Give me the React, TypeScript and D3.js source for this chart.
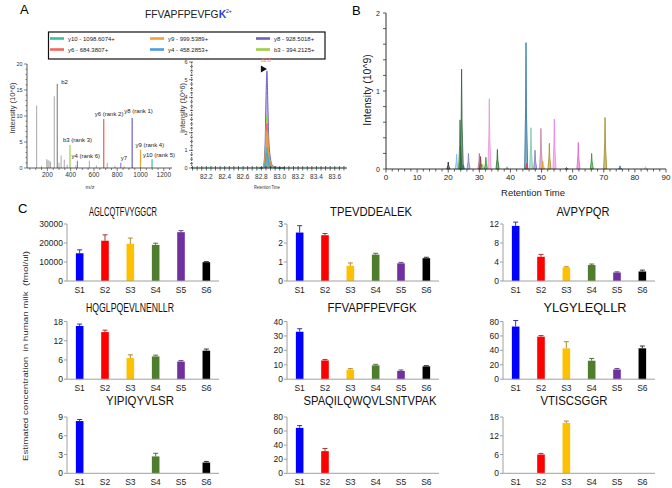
import React from 'react';
import * as d3 from 'd3';

const W = 672;
const H = 488;
const FONT = 'Liberation Sans, Arial, sans-serif';

// ---------- panel A : fragment spectrum ----------
const specGrayMz = [108, 150, 195, 205, 215, 228, 259, 300, 318, 345, 370, 445, 560, 620, 714, 780, 860];
const specGrayInt = [12, 0.4, 1.7, 1.5, 1.4, 1.2, 13.8, 1.0, 2.4, 1.6, 0.6, 0.5, 1.4, 0.5, 1.0, 0.4, 0.3];
const ionLabels = ['b2', 'b3 (rank 3)', 'y4 (rank 6)', 'y6 (rank 2)', 'y7', 'y8 (rank 1)', 'y9 (rank 4)', 'y10 (rank 5)'];
const ionMz = [285, 394, 458, 684, 830, 928, 999.5, 1098.6];
const ionInt = [16.2, 4.4, 1.4, 9.4, 1.0, 9.6, 3.5, 1.7];
const ionColors = ['#8a8a8a', '#9ccf45', '#4a9fe0', '#f05a4a', '#8f86dd', '#6b5fc8', '#f2a03a', '#3dbfa0'];

// legend / transitions
const legendNames = ['y10 - 1098.6074+', 'y9 - 999.5389+', 'y8 - 928.5018+', 'y6 - 684.3807+', 'y4 - 458.2853+', 'b3 - 394.2125+'];
const legendColors = ['#3dbfa0', '#f2a03a', '#6b5fc8', '#f06a5a', '#4a9fe0', '#9ccf45'];

// extracted ion chromatograms (10^6)
const xicTimes = [82.78, 82.82, 82.84, 82.85, 82.86, 82.87, 82.88, 82.9, 82.92, 82.95, 83.0, 83.05];
const xicY8 = [0, 0.05, 1.3, 3.9, 5.5, 3.7, 1.7, 0.5, 0.15, 0.06, 0.02, 0];
const xicB3 = [0, 0.03, 0.7, 2.1, 3.0, 2.0, 0.9, 0.3, 0.1, 0.04, 0.01, 0];
const xicY6 = [0, 0.02, 0.6, 1.8, 2.5, 1.7, 0.8, 0.25, 0.08, 0.03, 0.01, 0];
const xicY9 = [0, 0.02, 0.5, 1.5, 2.1, 1.4, 0.6, 0.2, 0.07, 0.03, 0.01, 0];
const xicY10 = [0, 0.01, 0.3, 0.8, 1.15, 0.75, 0.35, 0.12, 0.04, 0.02, 0, 0];
const xicY4 = [0, 0.01, 0.2, 0.6, 0.85, 0.55, 0.25, 0.08, 0.03, 0.01, 0, 0];

// ---------- panel B : chromatogram peaks ----------
const ticRT = [20.0, 22.7, 23.8, 24.0, 24.3, 24.9, 26.5, 30.0, 30.4, 31.1, 32.1, 33.2, 35.8, 38.9, 45.0, 45.2, 46.6, 47.9, 49.8, 50.4, 52.5, 54.1, 58.0, 61.8, 66.1, 70.4, 75.2, 83.4];
const ticHeight = [0.09, 0.19, 0.63, 0.3, 1.28, 0.05, 0.2, 0.2, 0.16, 0.06, 0.15, 0.9, 0.25, 0.03, 1.62, 0.07, 0.53, 0.24, 0.52, 0.1, 0.33, 0.64, 0.02, 0.34, 0.2, 0.66, 0.04, 0.03];
const ticColors = ['#222222', '#7ab8e6', '#2e7d32', '#3f8f3f', '#2f5f3f', '#00897b', '#8a80c8', '#b07080', '#7a3a3a', '#8fd14f', '#2e8b2e', '#ee8fd8', '#1f6f1f', '#999999', '#2a6fa0', '#d04040', '#78c8a8', '#7f70c8', '#c37fa5', '#e0a020', '#a89020', '#f27fe6', '#555555', '#e060d0', '#309030', '#a08a20', '#1a7090', '#c0c0c0'];

// ---------- panel C : concentrations ----------
const samples = ['S1', 'S2', 'S3', 'S4', 'S5', 'S6'];
const sampleColors = ['#0000ff', '#ff0000', '#ffc000', '#4e7d2e', '#7030a0', '#000000'];
const peptides = ['AGLCQTFVYGGCR', 'TPEVDDEALEK', 'AVPYPQR', 'HQGLPQEVLNENLLR', 'FFVAPFPEVFGK', 'YLGYLEQLLR', 'YIPIQYVLSR', 'SPAQILQWQVLSNTVPAK', 'VTISCSGGR'];
const concMeans = [
  [14600, 21200, 19600, 19000, 25700, 9900],
  [2.55, 2.41, 0.8, 1.39, 0.93, 1.2],
  [11.6, 5.1, 2.86, 3.36, 1.79, 2.0],
  [16.6, 14.7, 6.6, 7.1, 5.5, 8.9],
  [32.9, 13.0, 6.6, 9.6, 5.7, 8.9],
  [73, 59, 42.8, 25.6, 13.5, 42.8],
  [8.35, 0, 0, 2.7, 0, 1.72],
  [64.5, 31.5, 0, 0, 0, 0],
  [0, 6.0, 16.1, 0, 0, 0],
];
const concErrors = [
  [1800, 3100, 3000, 900, 800, 300],
  [0.36, 0.09, 0.15, 0.07, 0.05, 0.05],
  [0.8, 0.5, 0.14, 0.21, 0.14, 0.29],
  [0.6, 0.6, 1.0, 0.4, 0.3, 0.5],
  [2.1, 0.7, 0.7, 0.7, 0.7, 0.5],
  [8.4, 1.5, 9.2, 3.2, 1.4, 3.2],
  [0.25, 0, 0, 0.5, 0, 0.18],
  [3.3, 3.8, 0, 0, 0, 0],
  [0, 0.35, 0.6, 0, 0, 0],
];
const concMax = [30000, 3, 12, 18, 40, 80, 9, 80, 18];
const concStep = [10000, 1, 4, 6, 10, 20, 3, 20, 6];

// layout of the 3x3 grid
const colX = [67, 287, 503];
const rowBottom = [281, 379.2, 473.3];
const rowTop = [224, 321.5, 417];
const titleCx = [123, 371, 583, 130, 372, 585, 140, 370, 574];
const titleW = [68, 82, 53, 88, 89, 83, 68, 133, 67];
const titleBase = [215.5, 311.5, 404.5];

const PanelA = () => {
  const x = d3.scaleLinear().domain([25, 1270]).range([27, 172]);
  const y = d3.scaleLinear().domain([0, 20]).range([168, 64]);

  const xx = d3.scaleLinear().domain([82.04, 83.73]).range([191.7, 346.7]);
  const xy = d3.scaleLinear().domain([0, 6]).range([168, 62]);
  const area = d3.area<number>()
    .x((d, i) => xx(xicTimes[i]))
    .y0(xy(0))
    .y1((d) => xy(d))
    .curve(d3.curveMonotoneX);
  const line = d3.line<number>()
    .x((d, i) => xx(xicTimes[i]))
    .y((d) => xy(d))
    .curve(d3.curveMonotoneX);
  // drawn biggest first
  const xic = [
    { v: xicY8, c: legendColors[2] },
    { v: xicB3, c: legendColors[5] },
    { v: xicY6, c: legendColors[3] },
    { v: xicY9, c: legendColors[1] },
    { v: xicY10, c: legendColors[0] },
    { v: xicY4, c: legendColors[4] },
  ];

  // label nudges for the spectrum annotations
  const labelDx = [4, -7, -6, -9, 0, -8, -5, -9];
  const labelDy = [0, -3, -3, -3, -3, -5, -3, -2];

  return (
    <g>
      <text x={20} y={14} fontSize={13}>A</text>
      <text x={145} y={18} fontSize={10.3} fill="#222">
        FFVAPFPEVFG<tspan fill="#1f3fd8" fontWeight="bold">K</tspan>
        <tspan fontSize={5} dy={-5}>2+</tspan>
      </text>

      {/* legend */}
      <rect x={48.5} y={32} width={276.5} height={27} fill="none" stroke="#111" strokeWidth={1.2} />
      {legendNames.map((n, i) => {
        const cx = [50, 150, 256][i % 3];
        const cy = [38.5, 49.5][Math.floor(i / 3)];
        return (
          <g key={n}>
            <rect x={cx} y={cy - 1.3} width={14} height={2.6} fill={legendColors[i]} />
            <text x={cx + 18} y={cy + 2} fontSize={6} fill="#222">{n}</text>
          </g>
        );
      })}

      {/* spectrum */}
      {specGrayMz.map((m, i) => (
        <line key={'g' + i} x1={x(m)} x2={x(m)} y1={y(0)} y2={y(specGrayInt[i])} stroke="#a8a8a8" strokeWidth={1} />
      ))}
      {ionMz.map((m, i) => (
        <g key={ionLabels[i]}>
          <line x1={x(m)} x2={x(m)} y1={y(0)} y2={y(ionInt[i])} stroke={ionColors[i]} strokeWidth={1.2} />
          <text x={x(m) + labelDx[i]} y={y(ionInt[i]) + labelDy[i]} fontSize={6} fill="#222">{ionLabels[i]}</text>
        </g>
      ))}
      <line x1={27} x2={172} y1={168} y2={168} stroke="#333" strokeWidth={0.8} />
      <line x1={27} x2={27} y1={64} y2={168} stroke="#333" strokeWidth={0.8} />
      {d3.range(50, 1251, 50).map((t) => (
        <line key={'sx' + t} x1={x(t)} x2={x(t)} y1={168} y2={t % 200 === 0 ? 171 : 170} stroke="#333" strokeWidth={0.6} />
      ))}
      {d3.range(200, 1201, 200).map((t) => (
        <text key={'sxl' + t} x={x(t)} y={177} fontSize={6.5} textAnchor="middle" fill="#333">{t}</text>
      ))}
      {d3.range(0, 21, 1).map((t) => (
        <line key={'sy' + t} x1={t % 5 === 0 ? 24 : 25.5} x2={27} y1={y(t)} y2={y(t)} stroke="#333" strokeWidth={0.6} />
      ))}
      {d3.range(0, 21, 5).map((t) => (
        <text key={'syl' + t} x={22.5} y={y(t) + 2} fontSize={5.5} textAnchor="end" fill="#333">{t}</text>
      ))}
      <text x={90} y={189} fontSize={5.5} textAnchor="middle" fill="#333">m/z</text>
      <text transform="translate(15,108) rotate(-90)" fontSize={7} textAnchor="middle" fill="#333" textLength={51} lengthAdjust="spacingAndGlyphs">Intensity (10^6)</text>

      {/* XIC */}
      {xic.map((s, i) => (
        <g key={'xic' + i}>
          <path d={area(s.v) || ''} fill={s.c} fillOpacity={0.35} />
          <path d={line(s.v) || ''} fill="none" stroke={s.c} strokeWidth={1} />
        </g>
      ))}
      <line x1={191.7} x2={346.7} y1={168} y2={168} stroke="#222" strokeWidth={1} />
      <line x1={191.7} x2={191.7} y1={62} y2={168} stroke="#222" strokeWidth={0.8} strokeDasharray="1.5,1" />
      {d3.range(82.05, 83.72, 0.05).map((t) => (
        <line key={'xt' + t.toFixed(2)} x1={xx(t)} x2={xx(t)} y1={166} y2={170.5} stroke="#222" strokeWidth={0.7} />
      ))}
      {d3.range(82.05, 83.72, 0.05).map((t) => (
        <line key={'xg' + t.toFixed(2)} x1={xx(t) + 2} x2={xx(t) + 2} y1={166.8} y2={169.2} stroke="#3aa58a" strokeWidth={0.7} />
      ))}
      {[82.2, 82.4, 82.6, 82.8, 83.0, 83.2, 83.4, 83.6].map((t) => (
        <text key={'xl' + t} x={xx(t)} y={178.5} fontSize={6.5} textAnchor="middle" fill="#333">{t.toFixed(1)}</text>
      ))}
      {d3.range(0, 6.01, 0.25).map((t) => (
        <line key={'xy' + t} x1={t % 1 === 0 ? 189 : 190} x2={193} y1={xy(t)} y2={xy(t)} stroke="#222" strokeWidth={0.6} />
      ))}
      {d3.range(0, 7, 1).map((t) => (
        <text key={'xyl' + t} x={187.5} y={xy(t) + 2} fontSize={5.5} textAnchor="end" fill="#333">{t}</text>
      ))}
      <text transform="translate(185,108) rotate(-90)" fontSize={7} textAnchor="middle" fill="#333" textLength={50} lengthAdjust="spacingAndGlyphs">Intensity (10^6)</text>
      <text x={267} y={189} fontSize={5} textAnchor="middle" fill="#333" textLength={26} lengthAdjust="spacingAndGlyphs">Retention Time</text>
      <path d={d3.symbol(d3.symbolTriangle, 22)() || ''} transform={`translate(${xx(82.86) - 4},69) rotate(90)`} fill="#111" />
      <text x={xx(82.86) - 1} y={62} fontSize={5} textAnchor="middle" fill="#f07a6a">82.8</text>
    </g>
  );
};

const PanelB = () => {
  const x = d3.scaleLinear().domain([0, 90]).range([386, 666]);
  const y = d3.scaleLinear().domain([0, 2]).range([169, 13]);
  const area = d3.area<[number, number]>()
    .x((d) => x(d[0]))
    .y0(y(0))
    .y1((d) => y(d[1]));
  return (
    <g>
      <text x={352} y={15} fontSize={13}>B</text>
      {ticRT.map((rt, i) => {
        const pts: [number, number][] = [[rt - 0.45, 0], [rt - 0.12, ticHeight[i] * 0.5], [rt, ticHeight[i]], [rt + 0.15, ticHeight[i] * 0.45], [rt + 0.55, 0]];
        return (
          <path key={'p' + i} d={area(pts) || ''} fill={ticColors[i]} fillOpacity={0.55} stroke={ticColors[i]} strokeWidth={0.8} />
        );
      })}
      <line x1={386} x2={666} y1={169} y2={169} stroke="#333" strokeWidth={1} />
      <line x1={386} x2={386} y1={13} y2={169} stroke="#333" strokeWidth={1} />
      {d3.range(0, 91, 2).map((t) => (
        <line key={'bx' + t} x1={x(t)} x2={x(t)} y1={169} y2={t % 10 === 0 ? 172.5 : 171.5} stroke="#333" strokeWidth={0.8} />
      ))}
      {d3.range(0, 91, 10).map((t) => (
        <text key={'bxl' + t} x={x(t)} y={180} fontSize={8} textAnchor="middle" fill="#222">{t}</text>
      ))}
      {d3.range(0, 2.01, 0.2).map((t) => (
        <line key={'by' + t.toFixed(1)} x1={383} x2={386} y1={y(t)} y2={y(t)} stroke="#333" strokeWidth={0.8} />
      ))}
      {[0, 1, 2].map((t) => (
        <text key={'byl' + t} x={380} y={y(t) + 2.5} fontSize={7} textAnchor="end" fill="#222">{t}</text>
      ))}
      <text transform="translate(371,90) rotate(-90)" fontSize={10.5} textAnchor="middle" fill="#222">Intensity (10^9)</text>
      <text x={533} y={196} fontSize={9.5} textAnchor="middle" fill="#222">Retention Time</text>
    </g>
  );
};

const BarPanel = ({ idx }: { idx: number }) => {
  const col = idx % 3;
  const row = Math.floor(idx / 3);
  const x0 = colX[col];
  const bottom = rowBottom[row];
  const top = rowTop[row];
  const xs = d3.scaleBand().domain(samples).range([x0, x0 + 152]).paddingInner(0.7).paddingOuter(0.35);
  const ys = d3.scaleLinear().domain([0, concMax[idx]]).range([bottom, top]);
  const ticks = d3.range(0, concMax[idx] + 1e-9, concStep[idx]);
  const means = concMeans[idx];
  const errs = concErrors[idx];
  return (
    <g>
      <text x={titleCx[idx]} y={titleBase[row]} fontSize={13} textAnchor="middle" fill="#111" textLength={titleW[idx]} lengthAdjust="spacingAndGlyphs">{peptides[idx]}</text>
      {samples.map((s, i) => {
        const v = means[i];
        if (v <= 0) return null;
        const bx = xs(s) as number;
        const bw = xs.bandwidth();
        const cx = bx + bw / 2;
        const ec = d3.interpolateRgb(sampleColors[i], '#606060')(0.55);
        return (
          <g key={s}>
            <rect x={bx} y={ys(v)} width={bw} height={bottom - ys(v)} fill={sampleColors[i]} />
            {errs[i] > 0 && (
              <g stroke={ec} strokeWidth={1}>
                <line x1={cx} x2={cx} y1={ys(v)} y2={ys(v + errs[i])} />
                <line x1={cx - 2.5} x2={cx + 2.5} y1={ys(v + errs[i])} y2={ys(v + errs[i])} />
              </g>
            )}
          </g>
        );
      })}
      <line x1={x0} x2={x0 + 152} y1={bottom} y2={bottom} stroke="#a0a0a0" strokeWidth={1} />
      <line x1={x0} x2={x0} y1={top} y2={bottom} stroke="#a0a0a0" strokeWidth={1} />
      {ticks.map((t) => (
        <g key={'t' + t}>
          <line x1={x0 - 3} x2={x0} y1={ys(t)} y2={ys(t)} stroke="#a0a0a0" strokeWidth={1} />
          <text x={x0 - 4} y={ys(t) + 3} fontSize={8.5} textAnchor="end" fill="#222">{t}</text>
        </g>
      ))}
      {samples.map((s) => (
        <text key={'l' + s} x={(xs(s) as number) + xs.bandwidth() / 2} y={bottom + 12} fontSize={8.5} textAnchor="middle" fill="#222">{s}</text>
      ))}
    </g>
  );
};

const PanelC = () => (
  <g>
    <text x={18} y={213} fontSize={13}>C</text>
    <text transform="translate(28,356) rotate(-90)" fontSize={8} textAnchor="middle" fill="#333" style={{ whiteSpace: 'pre' }} textLength={210} lengthAdjust="spacingAndGlyphs">
      Estimated concentration  in human milk  (fmol/ul)
    </text>
    {peptides.map((p, i) => (
      <BarPanel key={p} idx={i} />
    ))}
  </g>
);

export default function App() {
  return (
    <svg width={W} height={H} style={{ position: 'fixed', left: 0, top: 0, background: '#fff' }} fontFamily={FONT}>
      <rect width={W} height={H} fill="#fff" />
      <PanelA />
      <PanelB />
      <PanelC />
    </svg>
  );
}
